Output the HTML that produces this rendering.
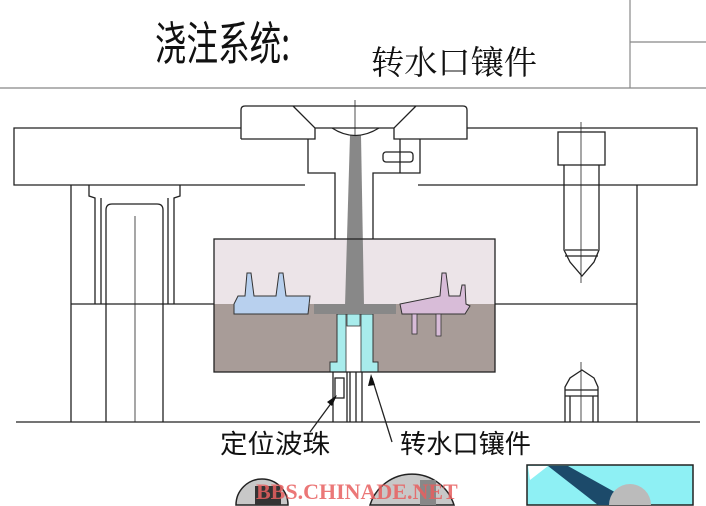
<!DOCTYPE html>
<html><head><meta charset="utf-8"><style>
html,body{margin:0;padding:0;background:#fff;width:706px;height:506px;overflow:hidden}
svg{display:block;overflow:hidden}
text{font-family:"Liberation Serif","Noto Serif CJK SC","Noto Sans CJK SC",serif}
</style></head><body>
<svg width="706" height="506" viewBox="0 0 706 506" xmlns="http://www.w3.org/2000/svg" overflow="hidden">
<g stroke="#888" stroke-width="1.2" fill="none">
<line x1="0" y1="88" x2="706" y2="88"/>
<line x1="630" y1="0" x2="630" y2="88"/>
<line x1="630" y1="42" x2="706" y2="42"/>
</g>
<text x="155" y="60" font-size="46" fill="#111" textLength="135" lengthAdjust="spacingAndGlyphs" style="font-family:'Noto Sans CJK SC',sans-serif">浇注系统:</text>
<text x="371" y="74" font-size="33" fill="#111" textLength="166" lengthAdjust="spacingAndGlyphs" style="font-family:'Noto Serif CJK SC',serif">转水口镶件</text>

<rect x="214" y="239" width="281" height="65" fill="#ece4e8"/>
<rect x="214" y="304" width="281" height="68" fill="#a89c98"/>
<path d="M234 304 L238 296 L245 296 L247 273 L251 273 L254 296 L276 296 L279 273 L283 273 L286 296 L310 296 L308 314 L234 314Z" fill="#b8d0ee" stroke="#333" stroke-width="1"/>
<path d="M400 304 L440 296 L442 273 L446 273 L449 296 L460 296 L462 285 L465 285 L466 304 L470 306 L465 314 L402 314Z" fill="#d8bcd8" stroke="#333" stroke-width="1"/>
<rect x="412" y="314" width="5" height="20" fill="#d8bcd8" stroke="#333" stroke-width="0.8"/>
<rect x="436" y="314" width="5" height="22" fill="#d8bcd8" stroke="#333" stroke-width="0.8"/>

<path d="M337 314 L373 314 L373 362 L378 362 L378 372 L330 372 L330 362 L337 362Z" fill="#a8ecec" stroke="#333" stroke-width="1"/>
<rect x="346" y="314" width="15" height="58" fill="#fff" stroke="#333" stroke-width="0.8"/>
<rect x="347" y="314" width="13" height="12" fill="#a8ecec" stroke="#333" stroke-width="0.8"/>
<rect x="314" y="304" width="82" height="10" fill="#888"/>
<path d="M350 135 L361 135 L364 306 L345 306Z" fill="#888"/>

<g stroke="#222" stroke-width="1.3" fill="none">
<rect x="214" y="239" width="281" height="133"/>
<path d="M241 128 L14 128 L14 185 L305 185 M467 128 L697 128 L697 185 L418 185"/>
<path d="M241 139 L241 110 Q241 106 245 106 L463 106 Q467 106 467 110 L467 139 L394 139 L394 128 L416 106 M241 139 L315 139 L315 128 L293 106 M315 128 L394 128"/>
<path d="M332 128 Q355 143 379 128"/>
<line x1="355" y1="100" x2="355" y2="135" stroke-width="0.8"/>
<path d="M308 139 L308 173 L335 173 L335 239 M420 139 L420 173 L373 173 L373 239"/>
<line x1="400" y1="139" x2="400" y2="173"/>
<rect x="383" y="152" width="30" height="10" rx="3"/>
<line x1="71" y1="185" x2="71" y2="422"/>
<line x1="637" y1="185" x2="637" y2="422"/>
<line x1="71" y1="304" x2="214" y2="304"/>
<line x1="495" y1="304" x2="637" y2="304"/>
<line x1="16" y1="422" x2="700" y2="422"/>
<path d="M89 185 L89 196 L95 198 L95 304 M180 185 L180 196 L174 198 L174 304 M106 422 L106 210 Q106 204 112 204 L157 204 Q163 204 163 210 L163 422 M101 198 L101 304 M168 198 L168 304"/>
<line x1="135" y1="216" x2="135" y2="422" stroke-width="0.8"/>
<rect x="558" y="132" width="47" height="33"/>
<path d="M564 165 L564 250 L570 262 L582 276 L594 262 L599 250 L599 165"/>
<path d="M565 250 L598 250 M565 256 L598 256"/>
<line x1="581" y1="122" x2="581" y2="283" stroke-width="0.8"/>
<path d="M565 422 L565 387 L570 378 L582 370 L594 378 L598 387 L598 422 M565 390 L598 390 M565 396 L598 396 M570 396 L570 422 M593 396 L593 422"/>
<line x1="581" y1="362" x2="581" y2="422" stroke-width="0.8"/>
<path d="M333 372 L333 422 M347 372 L347 422 M350 372 L350 422 M356 372 L356 422 M362 372 L362 422"/>
<rect x="335" y="378" width="9" height="20"/>
<line x1="310" y1="432" x2="335" y2="398"/>
<line x1="392" y1="442" x2="372" y2="378"/>
</g>
<path d="M337 395 L327 402 L332 406Z M371 374 L368 386 L375 385Z" fill="#111"/>
<text x="220" y="453" font-size="26" fill="#111" textLength="110" lengthAdjust="spacingAndGlyphs" style="font-family:'Noto Sans CJK SC',sans-serif">定位波珠</text>
<text x="400" y="453" font-size="26" fill="#111" textLength="131" lengthAdjust="spacingAndGlyphs" style="font-family:'Noto Sans CJK SC',sans-serif">转水口镶件</text>

<path d="M236 505 A26 26 0 0 1 288 505 Z" fill="#c8c8c8" stroke="#222" stroke-width="1.5"/>
<rect x="255" y="486" width="26" height="19" fill="#333"/>
<path d="M370 505 A44 44 0 0 1 454 505 Z" fill="#c8c8c8" stroke="#222" stroke-width="1.5"/>
<rect x="420" y="480" width="16" height="25" fill="#888"/>
<rect x="527" y="465" width="166" height="40" fill="#8ef0f4" stroke="#222" stroke-width="1.5"/>
<path d="M548 466 L598 505 L638 505 L568 466Z" fill="#1c4a6a"/>
<path d="M528 466 L548 466 L530 480Z" fill="#fff"/>
<path d="M609 505 A21 21 0 0 1 651 505 Z" fill="#bbb"/>
<text x="256" y="499" font-size="22" font-weight="bold" fill="#e86060" opacity="0.85">BBS.CHINADE.NET</text>
</svg>
</body></html>
